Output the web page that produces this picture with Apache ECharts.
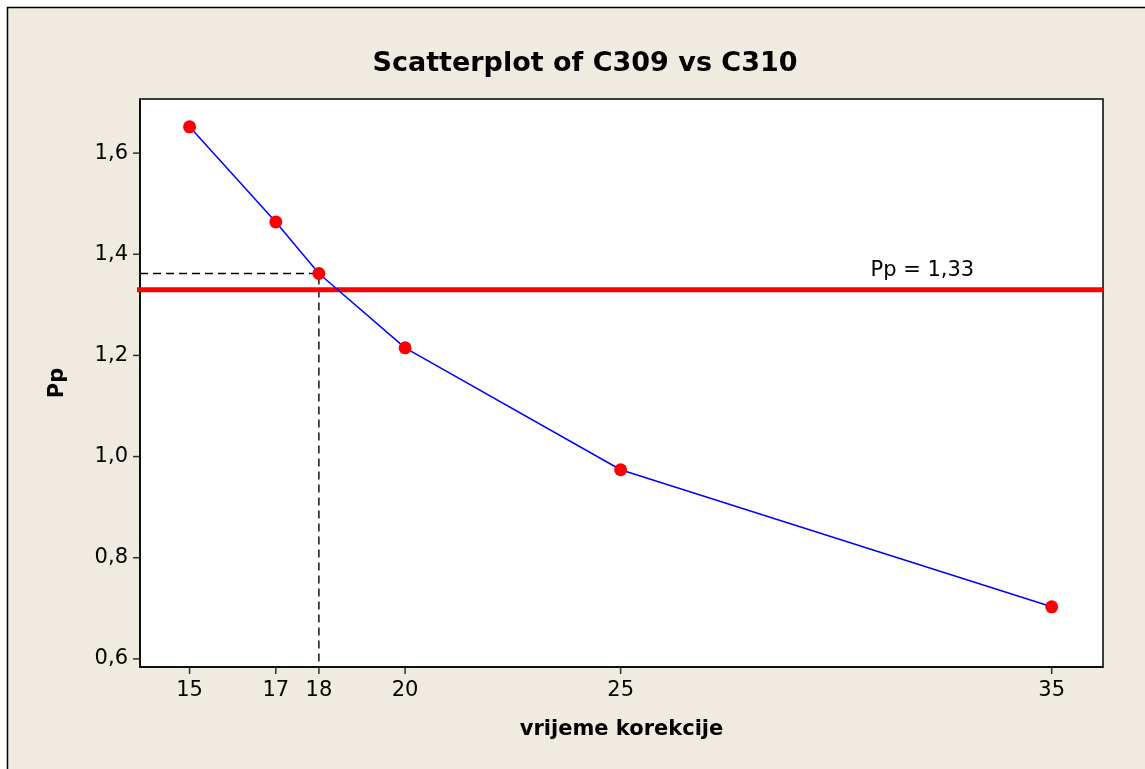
<!DOCTYPE html>
<html><head><meta charset="utf-8">
<script src="https://cdn.jsdelivr.net/npm/echarts@6/dist/echarts.min.js"></script>
<style>html,body{margin:0;padding:0;background:#fff}#c{width:1145px;height:769px}</style>
</head><body><div id="c"></div>
<script>
const xValues = [15, 17, 18, 20, 25, 35];
const ppValues = [1.652, 1.464, 1.362, 1.215, 0.974, 0.703];
const xTicks = [15, 17, 18, 20, 25, 35];
const yTicks = [0.6, 0.8, 1.0, 1.2, 1.4, 1.6];
const refValue = 1.33;
const refLabel = 'Pp = 1,33';
const markX = 18;
const markY = 1.362;
const xMin = 13.85, xMax = 36.19, yMin = 0.584, yMax = 1.707;

const font = 'DejaVu Sans';
const frame = {type:'rect', z:-10, shape:{x:7.5,y:7.5,width:1200,height:800},
    style:{fill:'#EFEBE1', stroke:'#000', lineWidth:1.5}};
const chart = echarts.init(document.getElementById('c'));
chart.setOption({
  animation: false,
  backgroundColor: '#fff',
  graphic: [frame],
  title: {text:'Scatterplot of C309 vs C310', left:580, top:45, textAlign:'center',
    textStyle:{fontFamily:font, fontWeight:'bold', fontSize:27, color:'#000'}},
  grid: {left:140, right:42, top:99, bottom:102, show:true, backgroundColor:'#fff',
    borderColor:'#000', borderWidth:1.5},
  xAxis: {type:'value', min:xMin, max:xMax, name:'vrijeme korekcije', nameLocation:'middle', nameGap:52,
    nameTextStyle:{fontFamily:font, fontWeight:'bold', fontSize:21, color:'#000'},
    axisLine:{show:true, lineStyle:{color:'#000', width:1.5}}, splitLine:{show:false},
    axisTick:{show:false},
    axisLabel:{customValues:xTicks, fontFamily:font, fontSize:21, color:'#000', margin:13}},
  yAxis: {type:'value', min:yMin, max:yMax, name:'Pp', nameLocation:'middle', nameGap:72, nameRotate:90,
    nameTextStyle:{fontFamily:font, fontWeight:'bold', fontSize:21, color:'#000'},
    axisLine:{show:true, lineStyle:{color:'#000', width:1.5}}, splitLine:{show:false},
    axisTick:{show:false},
    axisLabel:{customValues:yTicks, fontFamily:font, fontSize:21, color:'#000', margin:12,
      formatter:v=>v.toFixed(1).replace('.',',')}},
  series: [
    {type:'scatter', data:xTicks.map(x=>[x,yMin]), symbol:'rect', symbolSize:[1.5,7], symbolOffset:[0,3.5],
      itemStyle:{color:'#000'}, clip:false, silent:true, z:0},
    {type:'scatter', data:yTicks.map(y=>[xMin,y]), symbol:'rect', symbolSize:[7,1.5], symbolOffset:[-3.5,0],
      itemStyle:{color:'#000'}, clip:false, silent:true, z:0},
    {type:'line', data:[[xMin,markY],[markX,markY],[markX,yMin]], symbol:'none', silent:true,
      lineStyle:{color:'#000', width:1.4, type:[8,5]}, z:1},
    {type:'line', data:[[xMin-0.12,refValue],[xMax,refValue]], symbol:'none', silent:true,
      lineStyle:{color:'#ff0000', width:5}, z:2},
    {type:'line', data:xValues.map((x,i)=>[x,ppValues[i]]), symbol:'circle', symbolSize:13,
      itemStyle:{color:'#ff0000'}, lineStyle:{color:'#0000ff', width:1.5}, z:3}
  ]
});
const p = chart.convertToPixel({gridIndex:0}, [32.0, refValue]);
chart.setOption({graphic:[frame,
  {type:'text', x:p[0], y:p[1]-9, style:{text:refLabel, fontFamily:font, fontSize:21, fill:'#000',
    textAlign:'center', textVerticalAlign:'bottom'}, z:10}]});
</script></body></html>
